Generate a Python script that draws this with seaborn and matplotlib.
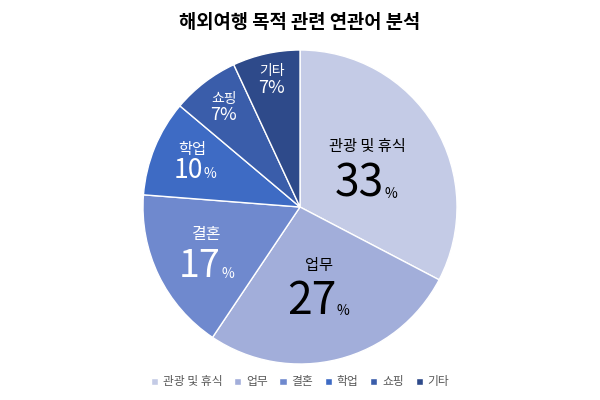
import numpy as np
import matplotlib
matplotlib.use("Agg")
import matplotlib.pyplot as plt
import seaborn as sns

categories = ["관광 및 휴식", "업무", "결혼", "학업", "쇼핑", "기타"]
values = [33, 27, 17, 10, 7, 7]
colors = ["#c4cbe6", "#a2aeda", "#6f89ce", "#3e6bc4", "#3a5daa", "#2e4a8a"]
text_colors = ["black", "black", "white", "white", "white", "white"]
label_r = [0.50, 0.50, 0.66, 0.74, 0.80, 0.83]
name_gap = [0.07, 0.06, 0.06, 0.03, 0.01, 0.01]
name_size = [11, 11, 11.5, 11, 10, 10]
num_size = [32, 32, 27, 19, 13, 13]
pct_size = [10, 10, 10, 10, 13, 13]

sns.set_theme(style="white")
plt.rcParams['font.family'] = ['Noto Sans CJK KR', 'DejaVu Sans']

fig = plt.figure(figsize=(6, 4), dpi=100)
ax = fig.add_axes([(300 - 157) / 600, (400 - 207 - 157) / 400, 314 / 600, 314 / 400])

wedges, _ = ax.pie(values, colors=colors, startangle=90, counterclock=False,
                   wedgeprops=dict(edgecolor="white", linewidth=1.0))
ax.set_xlim(-1, 1)
ax.set_ylim(-1, 1)
ax.set_aspect("equal")

total = sum(values)
cum = np.cumsum([0] + values)
for i, (cat, v) in enumerate(zip(categories, values)):
    mid = 90 - 360 * (cum[i] + v / 2) / total
    r = label_r[i]
    x = r * np.cos(np.radians(mid))
    y = r * np.sin(np.radians(mid))
    c = text_colors[i]
    ax.text(x, y + name_gap[i], cat, ha="center", va="bottom", fontsize=name_size[i], color=c)
    if v >= 10:
        t = ax.text(x - 0.05 * num_size[i] / 32, y + 0.035, str(v), ha="center", va="top",
                    fontsize=num_size[i], color=c, fontweight="light")
        ax.annotate("%", xy=(1, 0.12), xycoords=t, xytext=(0.5, 0), textcoords="offset points",
                    ha="left", va="bottom", fontsize=pct_size[i], color=c)
    else:
        ax.text(x, y + 0.005, f"{v}%", ha="center", va="top", fontsize=num_size[i], color=c,
                fontweight="light")

fig.text(0.5, 0.945, "해외여행 목적 관련 연관어 분석", ha="center", va="center",
         fontsize=13.5, fontweight="bold", color="black")

leg = fig.legend(wedges, categories, loc="center", bbox_to_anchor=(0.5, 0.045), ncol=6,
                 frameon=False, fontsize=8.5, handlelength=0.6, handleheight=0.6,
                 handletextpad=0.4, columnspacing=1.0)
for t in leg.get_texts():
    t.set_color("#595959")

fig.savefig("out.png", dpi=100)
